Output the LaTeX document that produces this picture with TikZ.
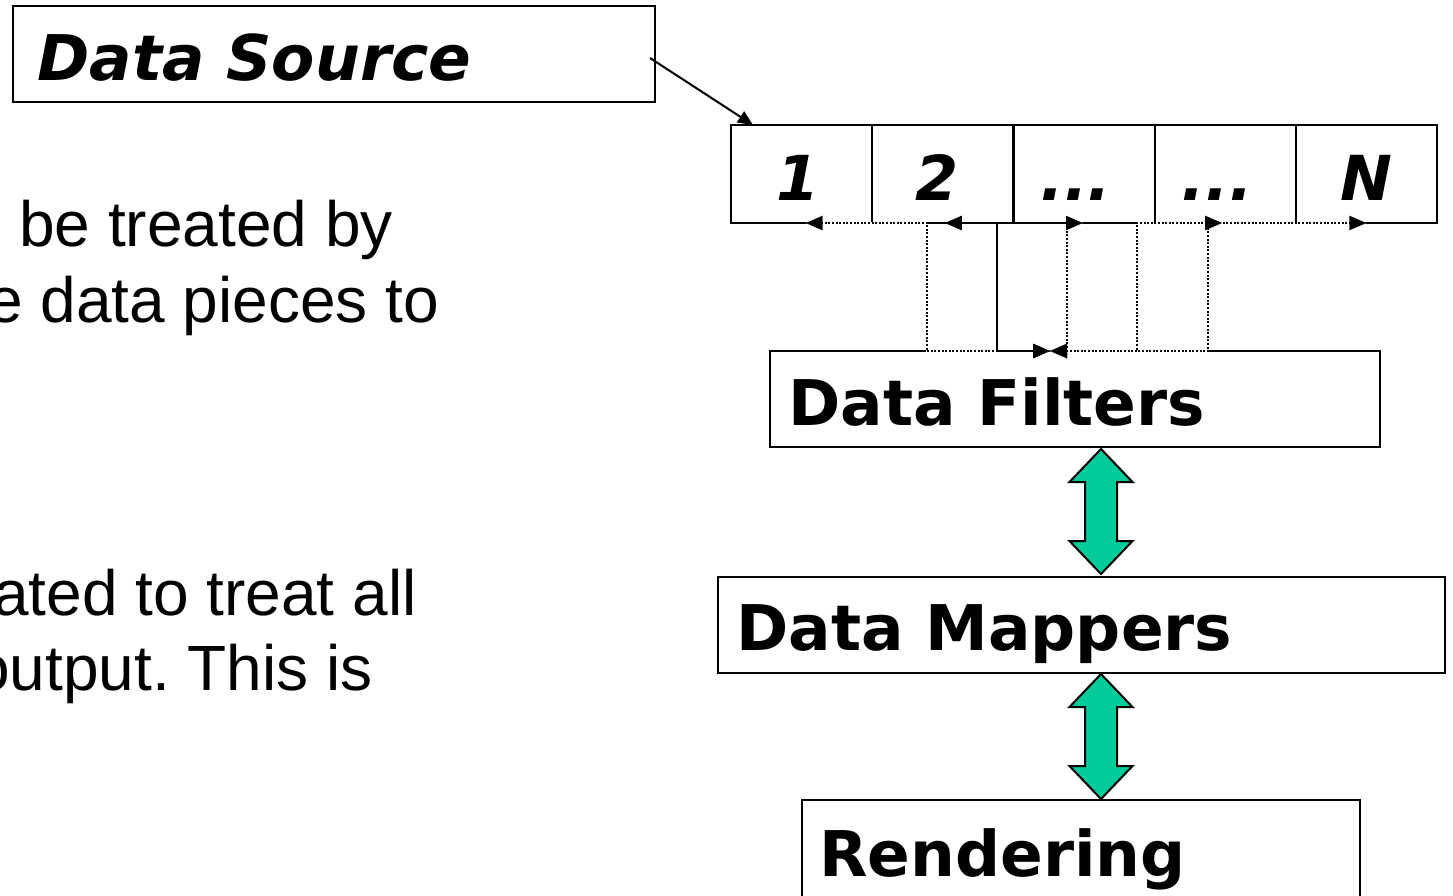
\documentclass[tikz,border=0pt]{standalone}
\usepackage{fontspec}
\usetikzlibrary{arrows.meta,calc}
\newfontfamily\bodyfont{Liberation Sans}
\newfontfamily\labelfont{DejaVu Sans}
\definecolor{flowgreen}{RGB}{0,204,153}
\frenchspacing

% double-headed block arrow, drawn downward from its top tip
\newcommand\fatdoublearrow[1]{%
  \draw[fatarrow] (#1) -- ++(31.5,33) -- ++(-15.5,0) -- ++(0,59) -- ++(15.5,0)
    -- ++(-31.5,33) -- ++(-31.5,-33) -- ++(15.5,0) -- ++(0,-59) -- ++(-15.5,0) -- cycle;}

\tikzset{
  box/.style={draw=black, line width=2.2pt, inner sep=0pt, outer sep=0pt,
              anchor=north west, minimum height=96pt},
  cell/.style={box, minimum width=141.2pt, minimum height=98pt},
  srctext/.style={font=\labelfont\bfseries\itshape\fontsize{63}{63}\selectfont,
                  anchor=base west, inner sep=0pt},
  celltext/.style={font=\labelfont\bfseries\itshape\fontsize{62}{62}\selectfont,
                   anchor=base, inner sep=0pt},
  boxtext/.style={font=\labelfont\bfseries\fontsize{63}{63}\selectfont,
                  anchor=base west, inner sep=0pt},
  bodytext/.style={font=\bodyfont\fontsize{64}{74}\selectfont,
                   anchor=base west, inner sep=0pt},
  linktip/.tip={Triangle[length=17pt,width=14pt]},
  srcarrow/.style={line width=2pt, -{Triangle[length=15pt,width=13pt]}},
  solidlink/.style={line width=2.4pt, linktip-linktip},
  dotlink/.style={line width=2.2pt, dash pattern=on 2pt off 1.6pt, linktip-linktip,
                  preaction={draw=white, solid, line width=2.2pt}},
  fatarrow/.style={fill=flowgreen, draw=black, line width=2pt, line join=miter},
}

\begin{document}
\begin{tikzpicture}[x=1pt, y=-1pt]
\useasboundingbox (0,0) rectangle (1453,895);
\fill[white] (0,0) rectangle (1453,895);

% running text at the left
\node[bodytext] (t1) at (19,246)  {be treated by};
\node[bodytext] (t2) at (-13,322) {e data pieces to};
\node[bodytext] (t3) at (-7,615)  {ated to treat all};
\node[bodytext] (t4) at (-26,690) {output. This is};

% data source
\node[box, minimum width=642pt] (src) at (13,6) {};
\node[srctext] (srclabel) at (37,80) {Data Source};

% row of data pieces
\node[cell] (c1) at (731,125) {};
\node[cell] (c2) at (872.2,125) {};
\node[cell] (c3) at (1013.4,125) {};
\node[cell] (c4) at (1154.6,125) {};
\node[cell] (c5) at (1295.8,125) {};
\node[celltext] (l1) at ($(c1.south)+(-4,-23)$) {1};
\node[celltext] (l2) at ($(c2.south)+(-6,-23)$) {2};
\node[celltext] (l3) at ($(c3.south)+(-8,-23)$) {...};
\node[celltext] (l4) at ($(c4.south)+(-8,-23)$) {...};
\node[celltext] (l5) at ($(c5.south)+(0,-23)$) {N};

% pipeline stages
\node[box, minimum width=610pt] (filters) at (770,351) {};
\node[boxtext] (flabel) at ($(filters.north west)+(18,74)$) {Data Filters};
\node[box, minimum width=727pt] (mappers) at (718,577) {};
\node[boxtext] (mlabel) at ($(mappers.north west)+(18,73)$) {Data Mappers};
\node[box, minimum width=558pt, minimum height=130pt] (render) at (802,800) {};
\node[boxtext] (rlabel) at ($(render.north west)+(17,76)$) {Rendering};

% source feeds the first piece
\draw[srcarrow] ($(src.east)+(-5,4)$) -- ($(c1.north west)+(22,0)$);

% links between the filters and each data piece
\coordinate (hub) at ($(filters.north west)+(280,0)$);
\coordinate (v1) at (927,0);
\coordinate (v2) at (997,0);
\coordinate (v3) at (1067,0);
\coordinate (v4) at (1137,0);
\coordinate (v5) at (1208,0);
\draw[dotlink] (hub) -| (v1 |- c1.south) -- ($(c1.south)+(4,0)$);
\draw[dotlink] (hub) -| (v5 |- c5.south) -- (c5.south);
\draw[dotlink] (hub) -| (v4 |- c4.south) -- ($(c4.south)+(-3,0)$);
\draw[dotlink] (hub) -| (v3 |- c3.south) -- ($(c3.south)+(-1,0)$);
\draw[solidlink] (hub) -| (v2 |- c2.south) -- ($(c2.south)+(2,0)$);

% block arrows between the stages
\coordinate (axis) at (1101,0);
\fatdoublearrow{$(filters.south -| axis)+(0,2)$}
\fatdoublearrow{$(mappers.south -| axis)+(0,1)$}
\end{tikzpicture}
\end{document}
